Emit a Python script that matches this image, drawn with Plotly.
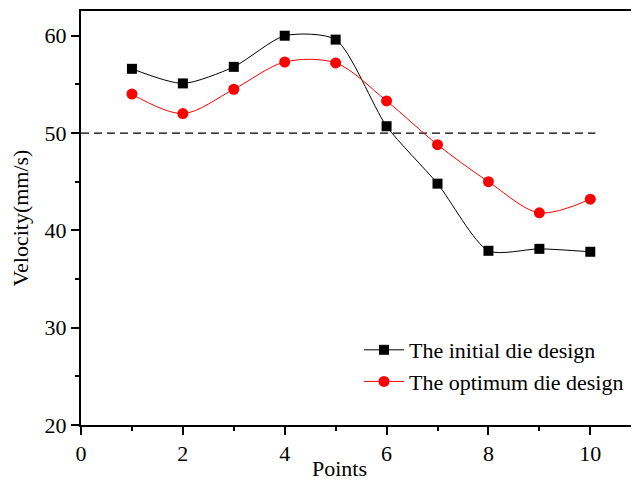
import plotly.graph_objects as go

points = [1, 2, 3, 4, 5, 6, 7, 8, 9, 10]
initial_design = [56.6, 55.1, 56.8, 60.0, 59.6, 50.7, 44.8, 37.9, 38.1, 37.8]
optimum_design = [54.0, 52.0, 54.5, 57.3, 57.2, 53.3, 48.8, 45.0, 41.8, 43.2]
reference_x = [0, 10.1]
reference_y = [50, 50]

FONT = "Liberation Serif, Times New Roman, serif"

# page body has an 8px default margin; the figure is sized to compensate
W, H = 631, 474
L, R, T, B = 73, 0, 3, 57

fig = go.Figure()
fig.add_trace(go.Scatter(
    x=reference_x, y=reference_y, mode="lines",
    line=dict(color="black", width=1.2, dash="8px,5px"),
    showlegend=False, hoverinfo="skip"))
fig.add_trace(go.Scatter(
    x=points, y=initial_design, mode="lines+markers", name="The initial die design",
    line=dict(color="black", width=1, shape="spline", smoothing=0.7),
    marker=dict(symbol="square", size=10, color="black")))
fig.add_trace(go.Scatter(
    x=points, y=optimum_design, mode="lines+markers", name="The optimum die design",
    line=dict(color="#ff0000", width=1, shape="spline", smoothing=0.9),
    marker=dict(symbol="circle", size=11, color="#ff0000")))

pw = W - L - R
ph = H - T - B
fig.update_layout(
    width=W, height=H,
    margin=dict(l=L, r=R, t=T, b=B, autoexpand=False),
    paper_bgcolor="white", plot_bgcolor="white",
    font=dict(family=FONT, size=22, color="black"),
    showlegend=True,
    legend=dict(x=(359 - 81) / pw, y=(425 - 329) / ph, xanchor="left", yanchor="top",
                bgcolor="rgba(0,0,0,0)", font=dict(family=FONT, size=22),
                tracegroupgap=0, itemwidth=40),
    xaxis=dict(range=[0, 558 / 50.93], tickmode="array", tickvals=[0, 2, 4, 6, 8, 10],
               ticks="outside", ticklen=8, tickwidth=2, tickcolor="black",
               minor=dict(tickvals=[1, 3, 5, 7, 9], ticks="outside", ticklen=4,
                          tickwidth=2, tickcolor="black"),
               showline=True, linewidth=2, linecolor="black", mirror=True,
               showgrid=False, zeroline=False,
               tickfont=dict(family=FONT, size=22)),
    yaxis=dict(range=[20, 62.54], tickmode="array", tickvals=[20, 30, 40, 50, 60],
               ticks="outside", ticklen=8, tickwidth=2, tickcolor="black",
               minor=dict(tickvals=[25, 35, 45, 55], ticks="outside", ticklen=4,
                          tickwidth=2, tickcolor="black"),
               showline=True, linewidth=2, linecolor="black", mirror=False,
               showgrid=False, zeroline=False,
               title=dict(text="Velocity(mm/s)", font=dict(family=FONT, size=22), standoff=10),
               tickfont=dict(family=FONT, size=22)),
    annotations=[dict(text="Points", xref="paper", yref="paper", x=(339 - 81) / pw,
                      y=-B / ph, xanchor="center", yanchor="bottom", showarrow=False,
                      borderpad=0, font=dict(family=FONT, size=22))],
)

fig.write_html("out.html")
